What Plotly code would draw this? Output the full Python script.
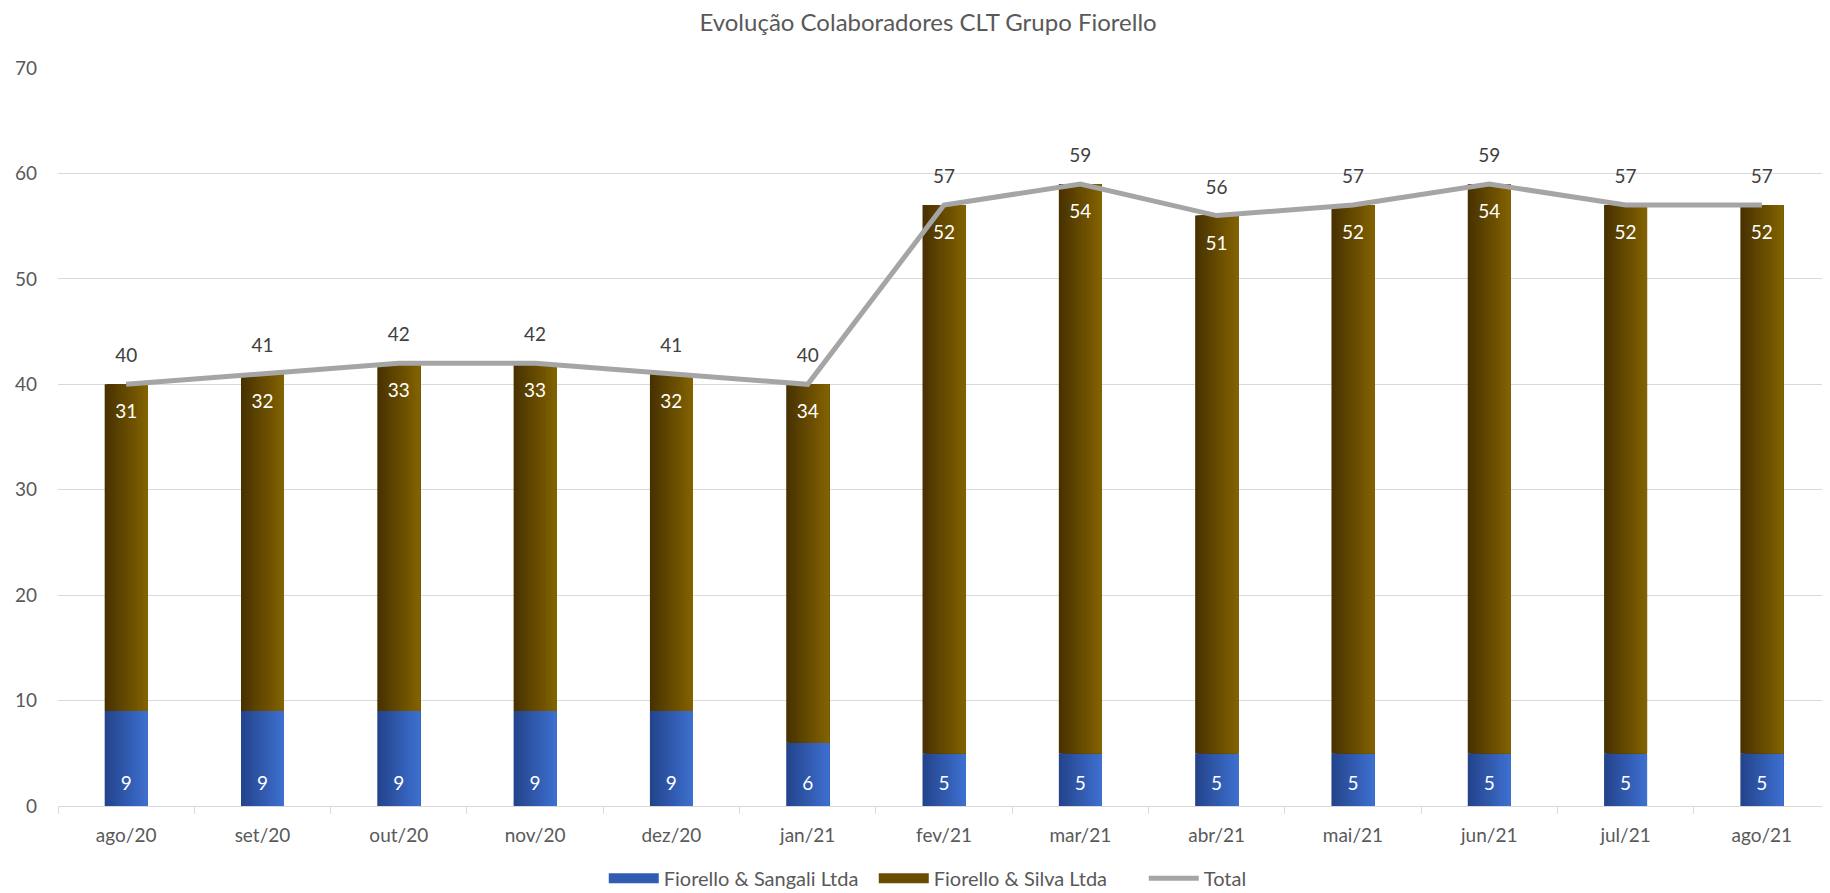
import plotly.graph_objects as go

# ---- data ----
months = ["ago/20", "set/20", "out/20", "nov/20", "dez/20", "jan/21", "fev/21",
          "mar/21", "abr/21", "mai/21", "jun/21", "jul/21", "ago/21"]
sangali = [9, 9, 9, 9, 9, 6, 5, 5, 5, 5, 5, 5, 5]
silva = [31, 32, 33, 33, 32, 34, 52, 54, 51, 52, 54, 52, 52]
total = [40, 41, 42, 42, 41, 40, 57, 59, 56, 57, 59, 57, 57]

# ---- style ----
FONT = "Lato"
BAR_W = 0.315
N_STRIPES = 24
BLUE_L, BLUE_R = (0x24, 0x44, 0x8c), (0x3d, 0x6f, 0xcf)
BROWN_L, BROWN_R = (0x48, 0x32, 0x00), (0x82, 0x62, 0x00)


def lerp(c1, c2, t):
    return "rgb(%d,%d,%d)" % tuple(round(a + (b - a) * t) for a, b in zip(c1, c2))


fig = go.Figure()


def add_gradient_bars(values, base, cl, cr, name):
    for i in range(N_STRIPES):
        t = i / (N_STRIPES - 1)
        off = -BAR_W / 2 + i * BAR_W / N_STRIPES
        w = BAR_W - i * BAR_W / N_STRIPES
        fig.add_trace(go.Bar(
            x=months, y=values, base=base, offset=off, width=w,
            marker=dict(color=lerp(cl, cr, t), line=dict(width=0)),
            name=name, legendgroup=name, showlegend=False,
            hoverinfo="skip",
        ))


add_gradient_bars(sangali, [0] * len(months), BLUE_L, BLUE_R, "Fiorello & Sangali Ltda")
add_gradient_bars(silva, sangali, BROWN_L, BROWN_R, "Fiorello & Silva Ltda")

# legend proxies (wide flat swatches like the reference)
fig.add_trace(go.Scatter(x=[None], y=[None], mode="lines", name="Fiorello & Sangali Ltda",
                         line=dict(color=lerp(BLUE_L, BLUE_R, 0.55), width=12)))
fig.add_trace(go.Scatter(x=[None], y=[None], mode="lines", name="Fiorello & Silva Ltda",
                         line=dict(color=lerp(BROWN_L, BROWN_R, 0.55), width=12)))

fig.add_trace(go.Scatter(
    x=months, y=total, mode="lines", name="Total",
    line=dict(color="#a5a5a5", width=5), hoverinfo="skip",
))

# labels
fig.add_trace(go.Scatter(
    x=months, y=total, mode="markers+text", text=[str(v) for v in total],
    textposition="top center", marker=dict(size=26, color="rgba(0,0,0,0)"),
    textfont=dict(family=FONT, size=19, color="#404040"),
    showlegend=False, hoverinfo="skip", cliponaxis=False,
))
fig.add_trace(go.Scatter(
    x=months, y=total, mode="markers+text", text=[str(v) for v in silva],
    textposition="bottom center", marker=dict(size=30, color="rgba(0,0,0,0)"),
    textfont=dict(family=FONT, size=19, color="#ffffff"),
    showlegend=False, hoverinfo="skip",
))
fig.add_trace(go.Scatter(
    x=months, y=[0] * len(months), mode="markers+text", text=[str(v) for v in sangali],
    textposition="top center", marker=dict(size=16, color="rgba(0,0,0,0)"),
    textfont=dict(family=FONT, size=19, color="#ffffff"),
    showlegend=False, hoverinfo="skip", cliponaxis=False,
))

# the page body adds an 8px offset, so the figure is sized to fit the viewport
fig.update_layout(
    width=1822, height=885,
    barmode="overlay",
    plot_bgcolor="white", paper_bgcolor="white",
    margin=dict(l=50, r=0, t=60, b=87, autoexpand=False),
    font=dict(family=FONT, color="#595959"),
    title=dict(text="Evolução Colaboradores CLT Grupo Fiorello",
               x=0.491, xref="paper", xanchor="center", y=1 - 15 / 885, yanchor="middle",
               font=dict(family=FONT, size=24, color="#595959")),
    legend=dict(orientation="h", x=0.308, xanchor="left", y=-0.098, yanchor="middle",
                font=dict(family=FONT, size=20, color="#595959"),
                itemwidth=50, entrywidth=205, entrywidthmode="pixels",
                traceorder="normal", bgcolor="rgba(0,0,0,0)"),
    xaxis=dict(type="category", range=[-0.5, len(months) - 0.5], showgrid=False,
               showline=True, linecolor="#d9d9d9",
               linewidth=1, ticks="outside", tickson="boundaries", ticklen=7,
               tickcolor="#d9d9d9", ticklabelstandoff=12,
               tickfont=dict(family=FONT, size=19, color="#595959"),
               zeroline=False),
    yaxis=dict(range=[0, 70], dtick=10, showgrid=True, gridcolor="#d9d9d9", gridwidth=1,
               zeroline=False, showline=False, ticks="", ticklabelstandoff=20,
               tickfont=dict(family=FONT, size=19, color="#595959")),
    hovermode=False,
)

fig.write_html("out.html")
